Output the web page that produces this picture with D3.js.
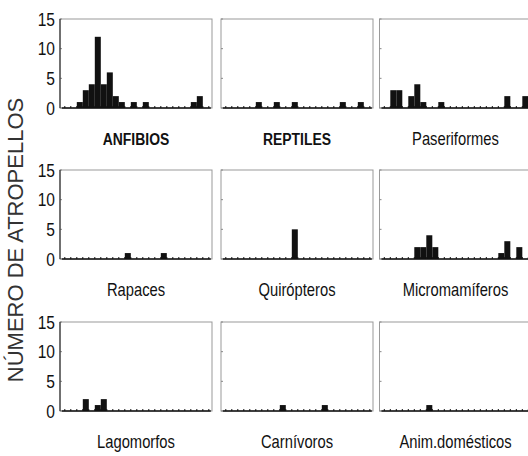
<!DOCTYPE html>
<html><head><meta charset="utf-8">
<script src="https://cdn.jsdelivr.net/npm/d3@7"></script>
<style>body{margin:0;background:#fff}svg{display:block}</style>
</head><body>
<script>
const labels = ["ANFIBIOS","REPTILES","Paseriformes","Rapaces","Quirópteros","Micromamíferos","Lagomorfos","Carnívoros","Anim.domésticos"];
const boldLabels = ["ANFIBIOS","REPTILES"];
const yTicks = [0,5,10,15];
const anfibios       = [0,0,1,3,4,12,4,6,2,1,0,1,0,1,0,0,0,0,0,0,0,1,2,0];
const reptiles       = [0,0,0,0,0,1,0,0,1,0,0,1,0,0,0,0,0,0,0,1,0,0,1,0];
const paseriformes   = [0,3,3,0,2,4,1,0,0,1,0,0,0,0,0,0,0,0,0,0,2,0,0,2];
const rapaces        = [0,0,0,0,0,0,0,0,0,0,1,0,0,0,0,0,1,0,0,0,0,0,0,0];
const quiropteros    = [0,0,0,0,0,0,0,0,0,0,0,5,0,0,0,0,0,0,0,0,0,0,0,0];
const micromamiferos = [0,0,0,0,0,2,2,4,2,0,0,0,0,0,0,0,0,0,0,1,3,0,2,0];
const lagomorfos     = [0,0,0,2,0,1,2,0,0,0,0,0,0,0,0,0,0,0,0,0,0,0,0,0];
const carnivoros     = [0,0,0,0,0,0,0,0,0,1,0,0,0,0,0,0,1,0,0,0,0,0,0,0];
const domesticos     = [0,0,0,0,0,0,0,1,0,0,0,0,0,0,0,0,0,0,0,0,0,0,0,0];
const series = [anfibios,reptiles,paseriformes,rapaces,quiropteros,micromamiferos,lagomorfos,carnivoros,domesticos];

const W=528,H=456;
const svg=d3.select("body").append("svg").attr("width",W).attr("height",H);
const colLeft=[60,221,379.5], rowTop=[19,170,322];
const pw=152, ph=89;
const nb=anfibios.length;
const x=d3.scaleLinear().domain([-0.8,nb+0.53]).range([0,pw]);
const y=d3.scaleLinear().domain([0,15]).range([ph,0]);
const FONT="'Liberation Sans',Arial,sans-serif";

series.forEach((vals,i)=>{
  const r=Math.floor(i/3), c=i%3;
  const g=svg.append("g").attr("transform",`translate(${colLeft[c]},${rowTop[r]})`);
  g.append("rect").attr("x",0).attr("y",0).attr("width",pw).attr("height",ph)
    .attr("fill","none").attr("stroke","#999").attr("stroke-width",1);
  g.selectAll("rect.bar").data(vals.map((v,k)=>({v,k})).filter(d=>d.v>0)).join("rect")
    .attr("class","bar")
    .attr("x",d=>x(d.k)).attr("width",d=>x(d.k+1)-x(d.k))
    .attr("y",d=>y(d.v)).attr("height",d=>y(0)-y(d.v))
    .attr("fill","#111");
  g.append("line").attr("x1",x(0)-3).attr("x2",x(nb)+2).attr("y1",y(0)).attr("y2",y(0))
    .attr("stroke","#111").attr("stroke-width",1.6);
  g.selectAll("line.bt").data(d3.range(nb+1)).join("line").attr("class","bt")
    .attr("x1",d=>x(d)).attr("x2",d=>x(d)).attr("y1",y(0)).attr("y2",y(0)-2)
    .attr("stroke","#111").attr("stroke-width",1);
  g.selectAll("line.yt").data(yTicks).join("line").attr("class","yt")
    .attr("x1",0).attr("x2",2).attr("y1",d=>y(d)).attr("y2",d=>y(d))
    .attr("stroke","#888").attr("stroke-width",1);
  if(c===0){
    g.append("line").attr("x1",0).attr("x2",0).attr("y1",0).attr("y2",ph)
      .attr("stroke","#333").attr("stroke-width",1.2);
    g.selectAll("text.yl").data(yTicks).join("text").attr("class","yl")
      .attr("transform",d=>`translate(-5,${y(d)}) scale(0.82,1)`)
      .attr("text-anchor","end").attr("dominant-baseline","central")
      .attr("font-family",FONT).attr("font-size",19).attr("fill","#111")
      .text(d=>d);
  }
  const lab=labels[i];
  const isBold=boldLabels.includes(lab);
  g.append("text")
    .attr("transform",`translate(${pw/2},${126}) scale(0.82,1)`)
    .attr("text-anchor","middle")
    .attr("font-family",FONT).attr("font-size",isBold?17:18)
    .attr("font-weight",isBold?"bold":"normal")
    .attr("fill","#111").text(lab);
});

svg.append("text")
  .attr("transform","translate(23,240) rotate(-90)")
  .attr("text-anchor","middle")
  .attr("font-family",FONT).attr("font-size",22)
  .attr("fill","#333").text("NÚMERO DE ATROPELLOS");
</script>
</body></html>
